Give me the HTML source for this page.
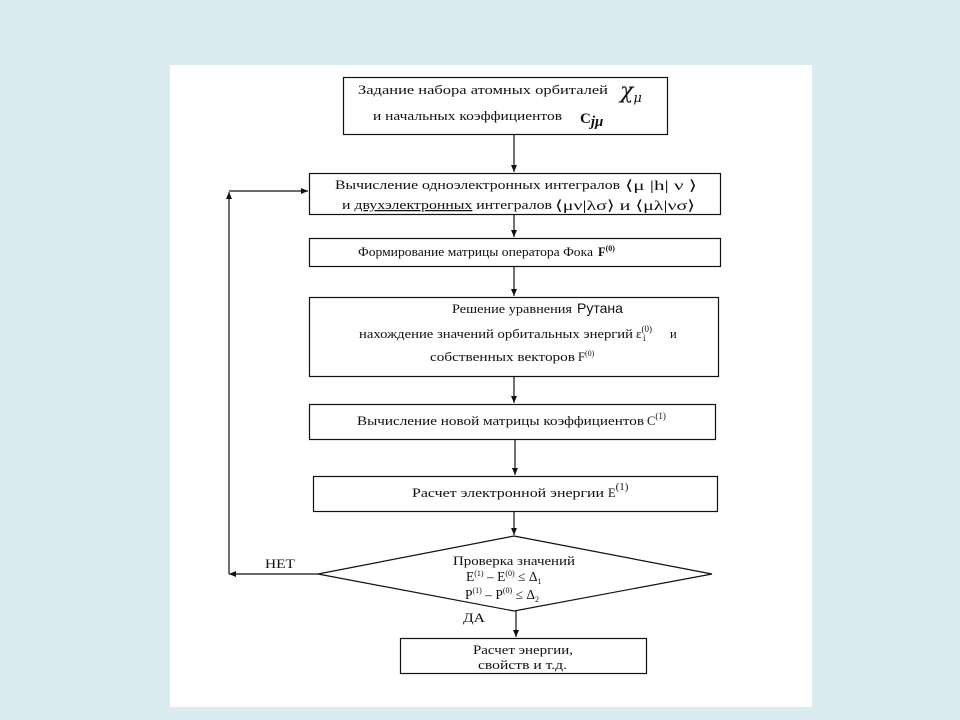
<!DOCTYPE html>
<html><head><meta charset="utf-8"><style>
html,body{margin:0;padding:0;background:#daecef;}
svg{display:block;font-family:"Liberation Serif",serif;font-size:12.5px;fill:#111;}
</style></head><body>
<svg width="960" height="720" viewBox="0 0 960 720" xmlns="http://www.w3.org/2000/svg">
<defs><marker id="a" markerWidth="8" markerHeight="8" refX="7" refY="4" orient="auto" markerUnits="userSpaceOnUse"><path d="M0,1 L7,4 L0,7 z" fill="#111"/></marker></defs>
<rect x="170" y="65" width="642" height="642" fill="#fff"/>
<g fill="none" stroke="#111" stroke-width="1.2">
<rect x="343.5" y="77.5" width="324" height="57"/>
<rect x="309.5" y="173.5" width="411" height="41"/>
<rect x="309.5" y="238.5" width="411" height="28"/>
<rect x="309.5" y="297.5" width="409" height="79"/>
<rect x="309.5" y="404.5" width="406" height="35"/>
<rect x="313.5" y="476.5" width="404" height="35"/>
<polygon points="514,536 712,574 514,611 318,574"/>
<rect x="400.5" y="638.5" width="246" height="35"/>
<line x1="514" y1="134" x2="514" y2="172" marker-end="url(#a)"/>
<line x1="514" y1="214" x2="514" y2="237" marker-end="url(#a)"/>
<line x1="514" y1="266" x2="514" y2="296" marker-end="url(#a)"/>
<line x1="514" y1="376" x2="514" y2="403" marker-end="url(#a)"/>
<line x1="515" y1="439" x2="515" y2="475" marker-end="url(#a)"/>
<line x1="514" y1="511" x2="514" y2="535" marker-end="url(#a)"/>
<line x1="516" y1="611" x2="516" y2="637" marker-end="url(#a)"/>
<line x1="318" y1="574" x2="229" y2="574" marker-end="url(#a)"/>
<line x1="229" y1="574" x2="229" y2="192" marker-end="url(#a)"/>
<line x1="229" y1="191" x2="308" y2="191" marker-end="url(#a)"/>
</g>
<g fill="#111">
<text x="358" y="94" textLength="250" lengthAdjust="spacingAndGlyphs">Задание набора атомных орбиталей</text>
<text x="620" y="98" font-family="DejaVu Serif" font-size="22" font-style="italic">χ<tspan font-size="13" dy="4">μ</tspan></text>
<text x="373" y="120" textLength="189" lengthAdjust="spacingAndGlyphs">и начальных коэффициентов</text>
<text x="580" y="123" font-weight="bold" font-size="15">C<tspan font-style="italic" dy="3">jμ</tspan></text>
<text x="335" y="189" textLength="285" lengthAdjust="spacingAndGlyphs">Вычисление  одноэлектронных интегралов</text>
<text x="625" y="190" font-size="14" textLength="72" lengthAdjust="spacingAndGlyphs">⟨μ |h| ν ⟩</text>
<text x="342" y="209" textLength="210" lengthAdjust="spacingAndGlyphs">и  <tspan text-decoration="underline">двухэлектронных</tspan>  интегралов</text>
<text x="555" y="210" font-size="14" textLength="140" lengthAdjust="spacingAndGlyphs">⟨μν|λσ⟩  и  ⟨μλ|νσ⟩</text>
<text x="358" y="256" textLength="235" lengthAdjust="spacingAndGlyphs">Формирование матрицы оператора Фока</text>
<text x="598" y="256" font-weight="bold">F<tspan font-size="8" dy="-5">(0)</tspan></text>
<text x="452" y="313" textLength="120" lengthAdjust="spacingAndGlyphs">Решение уравнения</text>
<text x="577" y="313" font-family="Liberation Sans" font-size="14">Рутана</text>
<text x="359" y="338" textLength="274" lengthAdjust="spacingAndGlyphs">нахождение значений орбитальных энергий</text>
<text x="636" y="338" font-size="13">ε<tspan font-size="9" dy="-6">(0)</tspan></text>
<text x="643" y="341" font-size="9">i</text>
<text x="670" y="338">и</text>
<text x="430" y="361" textLength="145" lengthAdjust="spacingAndGlyphs">собственных векторов</text>
<text x="578" y="361">F<tspan font-size="8" dy="-5">(0)</tspan></text>
<text x="357" y="425" textLength="287" lengthAdjust="spacingAndGlyphs">Вычисление новой матрицы коэффициентов</text>
<text x="647" y="425">C<tspan font-size="9" dy="-6">(1)</tspan></text>
<text x="412" y="497" textLength="192" lengthAdjust="spacingAndGlyphs">Расчет электронной энергии</text>
<text x="608" y="497">E<tspan font-size="11" dy="-7">(1)</tspan></text>
<text x="453" y="565" textLength="122" lengthAdjust="spacingAndGlyphs">Проверка значений</text>
<text x="466" y="581" font-size="13.5">E<tspan font-size="8" dy="-5">(1)</tspan><tspan dy="5"> – E</tspan><tspan font-size="8" dy="-5">(0)</tspan><tspan dy="5">  ≤ Δ</tspan><tspan font-size="8" dy="3">1</tspan></text>
<text x="465" y="599" font-size="13.5">P<tspan font-size="8" dy="-6">(1)</tspan><tspan dy="6"> – P</tspan><tspan font-size="8" dy="-6">(0)</tspan><tspan dy="6">    ≤ Δ</tspan><tspan font-size="8" dy="3">2</tspan></text>
<text x="265" y="568" textLength="30" lengthAdjust="spacingAndGlyphs">НЕТ</text>
<text x="463" y="622" textLength="22" lengthAdjust="spacingAndGlyphs">ДА</text>
<text x="473" y="654" textLength="100" lengthAdjust="spacingAndGlyphs">Расчет энергии,</text>
<text x="478" y="669" textLength="89" lengthAdjust="spacingAndGlyphs">свойств и т.д.</text>
</g>
</svg>
</body></html>
